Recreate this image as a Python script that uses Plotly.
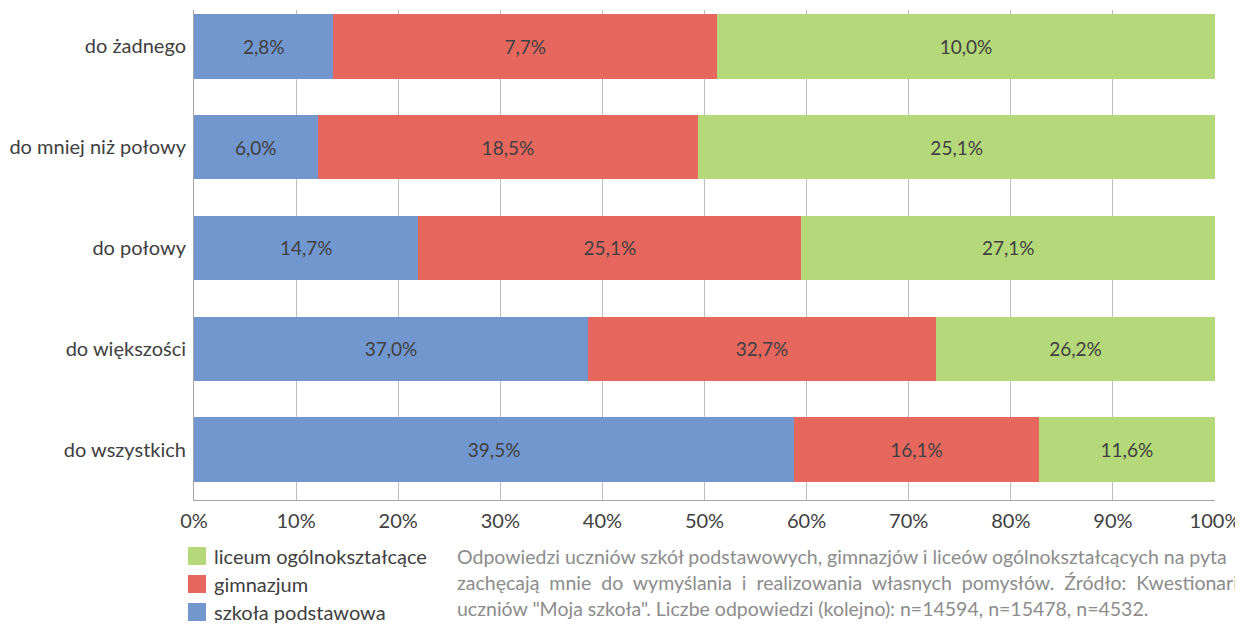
import plotly.graph_objects as go

categories = ["do żadnego", "do mniej niż połowy", "do połowy", "do większości", "do wszystkich"]
szkola_podstawowa = [2.8, 6.0, 14.7, 37.0, 39.5]
gimnazjum = [7.7, 18.5, 25.1, 32.7, 16.1]
liceum = [10.0, 25.1, 27.1, 26.2, 11.6]
tick_vals = [0, 10, 20, 30, 40, 50, 60, 70, 80, 90, 100]
tick_text = [f"{v}%" for v in tick_vals]

legend_names = ["liceum ogólnokształcące", "gimnazjum", "szkoła podstawowa"]
caption_lines = [
    "Odpowiedzi uczniów szkół podstawowych, gimnazjów i liceów ogólnokształcących na pyta",
    "zachęcają\u00a0 mnie\u00a0 do\u00a0 wymyślania\u00a0 i\u00a0 realizowania\u00a0 własnych\u00a0 pomysłów.\u00a0 Źródło:\u00a0 Kwestionari",
    "uczniów \"Moja szkoła\". Liczbe odpowiedzi (kolejno): n=14594, n=15478, n=4532.",
]

def fmt(v):
    return f"{v:.1f}".replace(".", ",") + "%"

FONT = "Lato"
COLORS = {"szkoła podstawowa": "#7297CE", "gimnazjum": "#E6675E", "liceum ogólnokształcące": "#B4D87A"}
series = [
    ("szkoła podstawowa", szkola_podstawowa),
    ("gimnazjum", gimnazjum),
    ("liceum ogólnokształcące", liceum),
]

# the page body has an 8px margin: work in page pixels, convert to figure pixels
OFF = 8
W, H = 1243 - OFF, 624 - OFF
L, R, T, B = 194 - OFF, 1215 - OFF, 10 - OFF, 500 - OFF
def px(x):
    return (x - OFF - L) / (R - L)
def py(y):
    return (B - (y - OFF)) / (B - T)

fig = go.Figure()
for name, vals in series:
    fig.add_trace(go.Bar(
        y=categories, x=vals, name=name, orientation="h",
        marker=dict(color=COLORS[name], line=dict(width=0)),
        text=[fmt(v) for v in vals], textposition="inside",
        insidetextanchor="middle", constraintext="none",
        textfont=dict(family=FONT, size=19, color="#404040"),
        width=0.64, hoverinfo="skip", showlegend=False,
    ))

fig.update_layout(
    barmode="stack", barnorm="percent",
    width=W, height=H,
    margin=dict(l=L, r=W - R, t=T, b=H - B, autoexpand=False),
    paper_bgcolor="white", plot_bgcolor="white",
    font=dict(family=FONT, color="#404040"),
    showlegend=False,
    xaxis=dict(
        range=[0, 100], tickvals=tick_vals, ticktext=tick_text,
        showgrid=True, gridcolor="#BDBDBD", gridwidth=1,
        showline=True, linecolor="#A6A6A6", linewidth=1, mirror=False,
        ticks="", ticklabelstandoff=3,
        tickfont=dict(family=FONT, size=20, color="#404040"),
        zeroline=False, automargin=False,
    ),
    yaxis=dict(
        categoryorder="array", categoryarray=categories,
        range=[4.5, -0.36],
        showline=True, linecolor="#A6A6A6", linewidth=1,
        ticks="", ticklabelstandoff=3, automargin=False,
        tickfont=dict(family=FONT, size=20, color="#404040"),
        showgrid=False,
    ),
    bargap=0.36,
)

# legend (manual, to match the reference placement)
for i, name in enumerate(legend_names):
    cy = 556 + i * 28
    fig.add_shape(
        type="rect", xref="paper", yref="paper",
        x0=px(188), x1=px(206), y0=py(cy - 9), y1=py(cy + 9),
        fillcolor=COLORS[name], line=dict(width=0),
    )
    fig.add_annotation(
        text=name, xref="paper", yref="paper",
        x=px(212), y=py(cy), xanchor="left", yanchor="middle",
        showarrow=False, font=dict(family=FONT, size=20, color="#404040"),
    )

for i, line in enumerate(caption_lines):
    fig.add_annotation(
        text=line, xref="paper", yref="paper",
        x=px(455), y=py(556 + i * 26),
        xanchor="left", yanchor="middle", showarrow=False,
        font=dict(family=FONT, size=19.5, color="#8C8C8C"),
    )

fig.write_html("out.html")
